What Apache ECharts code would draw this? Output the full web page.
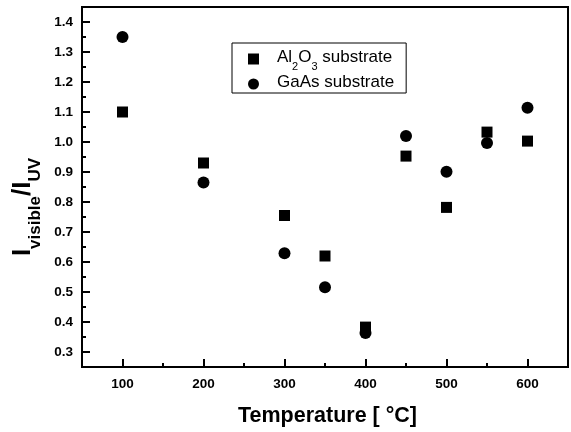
<!DOCTYPE html>
<html>
<head>
<meta charset="utf-8">
<script src="https://cdn.jsdelivr.net/npm/echarts@6/dist/echarts.min.js"></script>
<style>
html,body{margin:0;padding:0;background:#fff;}
#chart{width:571px;height:432px;}
</style>
</head>
<body>
<div id="chart"></div>
<script>
const temperatures = [100, 200, 300, 350, 400, 450, 500, 550, 600];
const al2o3Values = [1.10, 0.93, 0.755, 0.62, 0.383, 0.953, 0.782, 1.033, 1.003];
const gaasValues = [1.35, 0.865, 0.629, 0.516, 0.363, 1.02, 0.901, 0.997, 1.114];
const xMajorTicks = [100, 200, 300, 400, 500, 600];
const xMinorTicks = [150, 250, 350, 450, 550];
const yMajorTicks = [0.3, 0.4, 0.5, 0.6, 0.7, 0.8, 0.9, 1.0, 1.1, 1.2, 1.3, 1.4];
const yMinorTicks = [0.35, 0.45, 0.55, 0.65, 0.75, 0.85, 0.95, 1.05, 1.15, 1.25, 1.35];
const seriesNames = ['Al2O3 substrate', 'GaAs substrate'];

const FONT = '"Liberation Sans", Arial, sans-serif';
const chart = echarts.init(document.getElementById('chart'));

const pairs = (xs, ys) => xs.map((x, i) => [x, ys[i]]);

const labelStyle = {fontFamily: FONT, fontWeight: 'bold', fontSize: 13.5, color: '#000'};

chart.setOption({
  animation: false,
  backgroundColor: '#fff',
  grid: {left: 82, top: 7, right: 3, bottom: 65, show: true, borderColor: '#000', borderWidth: 2, backgroundColor: 'transparent'},
  legend: {
    orient: 'vertical',
    left: 232, top: 43,
    padding: [6, 12, 2, 16],
    itemGap: 2,
    itemWidth: 11, itemHeight: 11,
    borderColor: '#000', borderWidth: 1,
    data: [{name: seriesNames[0], icon: 'rect'}, {name: seriesNames[1], icon: 'circle'}],
    formatter: function (n) {
      if (n === seriesNames[0]) return '{t|Al}{s|2}{t|O}{s|3}{t| substrate}';
      return '{t|GaAs substrate}';
    },
    textStyle: {
      padding: [0, 0, 0, 13],
      rich: {
        t: {fontFamily: FONT, fontSize: 17, color: '#000', lineHeight: 20, verticalAlign: 'top'},
        s: {fontFamily: FONT, fontSize: 11, color: '#000', lineHeight: 20, verticalAlign: 'bottom', padding: [0, 0, -3, 0]}
      }
    }
  },
  xAxis: [{
    type: 'value', min: 50, max: 650,
    axisLine: {show: true, onZero: false, lineStyle: {color: '#000', width: 2}},
    axisTick: {show: true, inside: true, length: 8, lineStyle: {color: '#000', width: 2}, customValues: xMajorTicks},
    axisLabel: {show: true, margin: 10, customValues: xMajorTicks, ...labelStyle},
    splitLine: {show: false},
    name: 'Temperature [ \u00B0C]',
    nameLocation: 'middle', nameGap: 38,
    nameTextStyle: {fontFamily: FONT, fontWeight: 'bold', fontSize: 21.5, color: '#000', padding: [0, 0, 0, 5]}
  }, {
    type: 'value', min: 50, max: 650, position: 'bottom', gridIndex: 0,
    axisLine: {show: false},
    axisTick: {show: true, inside: true, length: 4, lineStyle: {color: '#000', width: 2}, customValues: xMinorTicks},
    axisLabel: {show: false},
    splitLine: {show: false}
  }],
  yAxis: [{
    type: 'value', min: 0.25, max: 1.45,
    axisLine: {show: true, onZero: false, lineStyle: {color: '#000', width: 2}},
    axisTick: {show: true, inside: true, length: 8, lineStyle: {color: '#000', width: 2}, customValues: yMajorTicks},
    axisLabel: {show: true, margin: 9, customValues: yMajorTicks, formatter: v => v.toFixed(1), ...labelStyle},
    splitLine: {show: false},
    name: '{I|I}{s|visible}{I|/I}{s|UV}',
    nameLocation: 'middle', nameRotate: 90, nameGap: 36,
    nameTextStyle: {
      padding: [0, 40, 0, 0],
      rich: {
        I: {fontFamily: FONT, fontWeight: 'bold', fontSize: 26, color: '#000', lineHeight: 34, verticalAlign: 'top'},
        s: {fontFamily: FONT, fontWeight: 'bold', fontSize: 17, color: '#000', lineHeight: 34, verticalAlign: 'bottom'}
      }
    }
  }, {
    type: 'value', min: 0.25, max: 1.45, position: 'left',
    axisLine: {show: false},
    axisTick: {show: true, inside: true, length: 4, lineStyle: {color: '#000', width: 2}, customValues: yMinorTicks},
    axisLabel: {show: false},
    splitLine: {show: false}
  }],
  series: [{
    name: seriesNames[0], type: 'scatter', symbol: 'rect', symbolSize: 11,
    itemStyle: {color: '#000', opacity: 1},
    data: pairs(temperatures, al2o3Values)
  }, {
    name: seriesNames[1], type: 'scatter', symbol: 'circle', symbolSize: 12,
    itemStyle: {color: '#000', opacity: 1},
    data: pairs(temperatures, gaasValues)
  }]
});
</script>
</body>
</html>
